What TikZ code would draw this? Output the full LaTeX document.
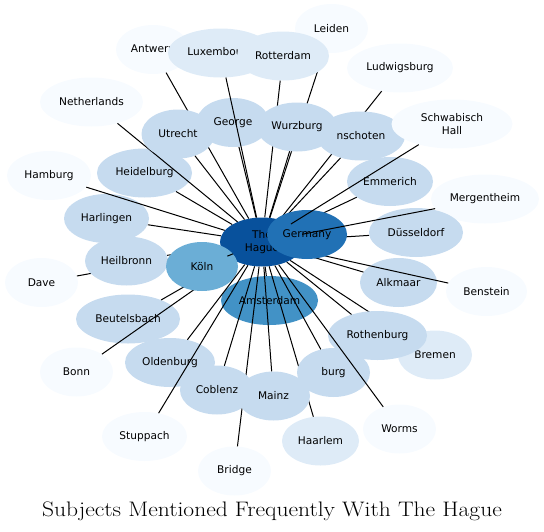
\documentclass[tikz,border=0pt]{standalone}
\usepackage{fontspec}
\usetikzlibrary{shapes.geometric}
\newfontfamily\townfont{DejaVu Sans}
\definecolor{blues1}{HTML}{F7FBFF}
\definecolor{blues2}{HTML}{DEEBF7}
\definecolor{blues3}{HTML}{C6DBEF}
\definecolor{blues5}{HTML}{6BAED6}
\definecolor{blues6}{HTML}{4292C6}
\definecolor{blues7}{HTML}{2171B5}
\definecolor{blues8}{HTML}{08519C}
\tikzset{
    town/.style={ellipse, fill=#1, inner sep=0pt, minimum height=49pt,
        align=center, font=\townfont\fontsize{10.6}{12.4}\selectfont},
    tie/.style={line width=1pt, black},
}

\begin{document}
\begin{tikzpicture}[x=1pt, y=-1pt]
    \useasboundingbox (0,0) rectangle (544,531);

    \node[town=blues8, minimum width=84pt] (hague) at (262,242) {The\\Hague};

    \foreach \id/\x/\y/\w/\c/\txt in {
        amsterdam/269.5/300.5/97/blues6/Amsterdam,
        dave/41.5/282.5/73/blues1/Dave,
        harlingen/106.5/218.5/85/blues3/Harlingen,
        heilbronn/126.5/261/83/blues3/Heilbronn,
        beutelsbach/128/319/104/blues3/Beutelsbach,
        bonn/76.5/372/73/blues1/Bonn,
        koln/202/266.5/72/blues5/Köln,
        hamburg/49/175.5/84/blues1/Hamburg,
        heidelburg/144.5/173/95/blues3/Heidelburg,
        netherlands/91.5/102/103/blues1/Netherlands,
        antwerp/153/49.5/74/blues1/Antwerp,
        utrecht/178/134/73/blues3/Utrecht,
        george/233/122.5/73/blues3/George,
        luxembourg/220.5/53/105/blues2/Luxembourg,
        leiden/331.5/28.5/73/blues1/Leiden,
        rotterdam/283/56/92/blues2/Rotterdam,
        ludwigsburg/400/68/106/blues1/Ludwigsburg,
        nschoten/361/136/88/blues3/nschoten,
        wurzburg/297/127/80/blues3/Wurzburg,
        emmerich/390/181.5/86/blues3/Emmerich} {
        \node[town=\c, minimum width=\w pt] (\id) at (\x,\y) {\txt};
        \draw[tie] (hague) -- (\id);
    }

    \node[town=blues1, minimum width=108pt] (mergentheim) at (485,199) {Mergentheim};

    \foreach \id/\x/\y/\w/\c/\txt in {
        duesseldorf/416/232.5/94/blues3/Düsseldorf,
        alkmaar/398.5/282.5/77/blues3/Alkmaar,
        benstein/486.5/291.5/81/blues1/Benstein} {
        \node[town=\c, minimum width=\w pt] (\id) at (\x,\y) {\txt};
        \draw[tie] (hague) -- (\id);
    }

    \node[town=blues7, minimum width=80pt] (germany) at (307,234.5) {Germany};
    \node[town=blues1, minimum width=121pt] (schwabisch) at (452,124) {Schwabisch\\Hall};
    \draw[tie] (hague) -- (schwabisch);
    \draw[tie] (hague) -- (mergentheim);

    \foreach \id/\x/\y/\w/\c/\txt in {
        bremen/435/355/74/blues2/Bremen,
        rothenburg/377.5/335.5/99/blues3/Rothenburg,
        haarlem/320.5/441/77/blues2/Haarlem,
        bridge/234.5/471/73/blues1/Bridge,
        oldenburg/170/362.5/90/blues3/Oldenburg,
        stuppach/144.5/436.5/85/blues1/Stuppach,
        coblenz/217/390/74/blues3/Coblenz,
        burg/333.5/372.5/73/blues3/burg,
        worms/399.5/429/73/blues1/Worms,
        mainz/273.5/396/73/blues3/Mainz} {
        \node[town=\c, minimum width=\w pt] (\id) at (\x,\y) {\txt};
        \draw[tie] (hague) -- (\id);
    }

    \node[xscale=1.12, transform shape, font=\fontsize{21}{25}\selectfont] (title) at (272,511)
        {Subjects Mentioned Frequently With The Hague};
\end{tikzpicture}
\end{document}
